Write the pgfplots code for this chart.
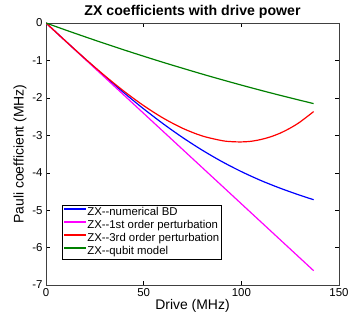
\documentclass[border=0pt]{standalone}
\usepackage{fontspec}
\setmainfont{Liberation Sans}
\usepackage{pgfplots}
\pgfplotsset{compat=1.18}
\definecolor{mgreen}{RGB}{0,128,0}
\definecolor{mblue}{RGB}{0,0,255}
\definecolor{mred}{RGB}{255,0,0}
\definecolor{mmagenta}{RGB}{255,0,255}

\begin{document}
\begin{tikzpicture}
\begin{axis}[
  scale only axis,
  width=293bp, height=262bp,
  xmin=0, xmax=150, ymin=-7, ymax=0,
  xtick={0,50,100,150}, ytick={-7,-6,...,0},
  tick align=inside, major tick length=4bp,
  tick style={black, line width=0.4bp},
  axis line style={black!75, line width=0.5bp},
  /pgf/number format/assume math mode=true,
  tick label style={font=\fontsize{11.5}{13}\selectfont},
  label style={font=\fontsize{14}{16}\selectfont},
  xlabel={Drive (MHz)},
  ylabel={Pauli coefficient (MHz)},
  xlabel style={yshift=4bp},
  ylabel style={yshift=-1bp},
  title={\bfseries ZX coefficients with drive power},
  title style={font=\fontsize{14.2}{16}\selectfont, yshift=-5bp},
  legend cell align=left,
  legend style={at={(16bp,26bp)}, anchor=south west, font=\fontsize{11.4}{12}\selectfont,
    draw=black, line width=0.5bp, inner sep=1bp, row sep=0pt,
    nodes={inner sep=0.5bp, text height=9bp, text depth=3bp}},
  legend image code/.code={\draw[#1, line width=1.6bp] (0bp,3.5bp) -- (22bp,3.5bp);},
  every axis plot/.append style={line width=1.2bp},
]
\addplot[mblue, smooth] coordinates {
  (0,0) (10,-0.482) (20,-0.958) (30,-1.422) (40,-1.869) (50,-2.294)
  (60,-2.693) (70,-3.062) (80,-3.398) (90,-3.701) (100,-3.970)
  (110,-4.208) (120,-4.416) (130,-4.602) (137,-4.721)};
\addlegendentry{ZX-{}-numerical BD}
\addplot[mmagenta] coordinates {
  (0,0) (50,-2.415) (100,-4.830) (137,-6.617)};
\addlegendentry{ZX-{}-1st order perturbation}
\addplot[mred, smooth] coordinates {
  (0,0) (10,-0.481) (20,-0.953) (30,-1.404) (40,-1.826) (50,-2.208)
  (60,-2.541) (70,-2.814) (80,-3.018) (90,-3.142) (95,-3.170) (100,-3.177)
  (105,-3.160) (110,-3.113) (115,-3.040) (120,-2.940) (125,-2.808)
  (130,-2.647) (137,-2.367)};
\addlegendentry{ZX-{}-3rd order perturbation}
\addplot[mgreen, smooth] coordinates {
  (0,0) (10,-0.187) (20,-0.369) (30,-0.547) (40,-0.720) (50,-0.888)
  (60,-1.052) (70,-1.210) (80,-1.365) (90,-1.514) (100,-1.659)
  (110,-1.799) (120,-1.934) (130,-2.064) (137,-2.153)};
\addlegendentry{ZX-{}-qubit model}
\end{axis}
\path[use as bounding box] ([xshift=-46bp,yshift=-36bp]current axis.south west)
  rectangle ([xshift=18bp,yshift=23bp]current axis.north east);
\end{tikzpicture}
\end{document}
